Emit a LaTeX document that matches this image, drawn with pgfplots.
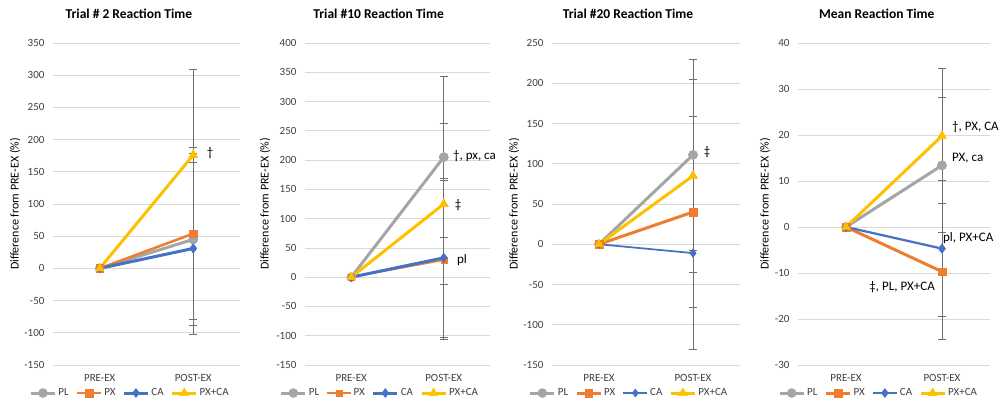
\documentclass[border=0pt]{standalone}
\usepackage{fontspec}
\setmainfont{Carlito}
\usepackage{pgfplots}
\pgfplotsset{compat=1.18}

\definecolor{plc}{HTML}{A5A5A5}
\definecolor{pxc}{HTML}{ED7D31}
\definecolor{cac}{HTML}{4472C4}
\definecolor{pcc}{HTML}{FFC000}
\definecolor{gridc}{HTML}{D9D9D9}
\definecolor{errc}{HTML}{6F6F6F}

\tikzset{note/.style={font=\fontsize{13}{15}\selectfont, inner sep=0pt}}

\pgfplotsset{
  rt/.style={
    scale only axis, height=322pt,
    xmin=-0.5, xmax=1.5, xtick={0,1}, xticklabels={PRE-EX,POST-EX},
    ymajorgrids, grid style={draw=gridc, line width=0.8pt},
    axis line style={draw=none}, major tick style={draw=none},
    clip=false,
    tick label style={font=\fontsize{11}{13}\selectfont, color=black!75},
    xticklabel style={yshift=-6pt},
    yticklabel style={xshift=-5pt},
    /pgf/number format/assume math mode=true,
    ylabel={Difference from PRE-EX (\%)},
    label style={font=\fontsize{12}{14}\selectfont},
    title style={font=\fontsize{13.5}{15}\selectfont\bfseries, anchor=center},
    legend columns=4,
    legend style={draw=none, fill=none, anchor=center,
      font=\fontsize{11}{13}\selectfont, text=black!75,
      /tikz/every even column/.append style={column sep=5pt}},
    legend image code/.code={
      \draw[mark repeat=2, mark phase=2] plot coordinates {(0pt,0pt) (12pt,0pt) (24pt,0pt)};},
  },
  pl/.style={color=plc, line width=3pt, mark=*, mark size=4.5pt, mark options={solid, line width=0.5pt}},
  px/.style={color=pxc, line width=3pt, mark=square*, mark size=3.8pt, mark options={solid, line width=0.5pt}},
  ca/.style={color=cac, line width=3pt, mark=diamond*, mark size=4.5pt, mark options={solid, line width=0.5pt}},
  pc/.style={color=pcc, line width=3pt, mark=triangle*, mark size=5pt, mark options={solid, line width=0.5pt}},
  % marks redrawn above the error bars
  mk/.style={forget plot, only marks},
  eb/.style={forget plot, only marks, mark=none,
    error bars/.cd, y dir=both, y explicit, error mark=-,
    error bar style={color=errc, line width=1pt},
    error mark options={rotate=90, color=errc, mark size=4pt, line width=1pt}},
}

\begin{document}
\begin{tikzpicture}
\useasboundingbox (0,0) rectangle (1002pt,406pt);

% Trial #2
\begin{axis}[rt, at={(53pt,41pt)}, anchor=south west, width=187pt,
  ymin=-150, ymax=350, ytick distance=50,
  title={Trial \# 2 Reaction Time},
  title style={at={(axis description cs:0.406,1.072)}},
  ylabel style={at={(axis description cs:-0.203,0.5)}, anchor=center},
  legend style={at={(axis description cs:0.412,-0.087)}}]
  \addplot[pl] coordinates {(0,0) (1,45)};
  \addplot[px, line width=2.5pt] coordinates {(0,0) (1,54)};
  \addplot[ca] coordinates {(0,0) (1,31)};
  \addplot[pc] coordinates {(0,0) (1,176)};
  \legend{PL,PX,CA,PX+CA}
  \addplot[eb] coordinates {(1,45) +- (0,133) (1,54) +- (0,133) (1,31) +- (0,133) (1,176) +- (0,133)};
  \addplot[pl, mk] coordinates {(1,45)};
  \addplot[px, mk] coordinates {(1,54)};
  \addplot[ca, mk] coordinates {(1,31)};
  \addplot[pc, mk] coordinates {(1,176)};
  \node[note] at (axis cs:1.18,179) {†};
\end{axis}

% Trial #10
\begin{axis}[rt, at={(305pt,41pt)}, anchor=south west, width=185pt,
  ymin=-150, ymax=400, ytick distance=50,
  title={Trial \#10 Reaction Time},
  title style={at={(axis description cs:0.398,1.072)}},
  ylabel style={at={(axis description cs:-0.216,0.5)}, anchor=center},
  legend style={at={(axis description cs:0.405,-0.087)}}]
  \addplot[pl] coordinates {(0,0) (1,205)};
  \addplot[px, line width=1.5pt, mark size=3pt] coordinates {(0,0) (1,29)};
  \addplot[ca] coordinates {(0,0) (1,33)};
  \addplot[pc] coordinates {(0,0) (1,125)};
  \legend{PL,PX,CA,PX+CA}
  \addplot[eb] coordinates {(1,205) +- (0,137) (1,29) +- (0,136) (1,33) +- (0,136) (1,125) +- (0,137)};
  \addplot[pl, mk] coordinates {(1,205)};
  \addplot[px, mk, mark size=3pt] coordinates {(1,29)};
  \addplot[ca, mk] coordinates {(1,33)};
  \addplot[pc, mk] coordinates {(1,125)};
  \node[note, anchor=west] at (axis cs:1.10,206) {†, px, ca};
  \node[note] at (axis cs:1.154,123) {‡};
  \node[note] at (axis cs:1.197,29) {pl};
\end{axis}

% Trial #20
\begin{axis}[rt, at={(552pt,41pt)}, anchor=south west, width=188pt,
  ymin=-150, ymax=250, ytick distance=50,
  title={Trial \#20 Reaction Time},
  title style={at={(axis description cs:0.404,1.072)}},
  ylabel style={at={(axis description cs:-0.202,0.5)}, anchor=center},
  legend style={at={(axis description cs:0.41,-0.087)}}]
  \addplot[pl] coordinates {(0,0) (1,111)};
  \addplot[px] coordinates {(0,0) (1,40)};
  \addplot[ca, line width=1.75pt, mark size=4pt] coordinates {(0,0) (1,-11)};
  \addplot[pc] coordinates {(0,0) (1,85)};
  \legend{PL,PX,CA,PX+CA}
  \addplot[eb] coordinates {(1,111) +- (0,119) (1,40) +- (0,119) (1,-11) +- (0,120) (1,85) +- (0,120)};
  \addplot[pl, mk] coordinates {(1,111)};
  \addplot[px, mk] coordinates {(1,40)};
  \addplot[ca, mk, mark size=4pt] coordinates {(1,-11)};
  \addplot[pc, mk] coordinates {(1,85)};
  \node[note] at (axis cs:1.149,114) {‡};
\end{axis}

% Mean
\begin{axis}[rt, at={(798pt,41pt)}, anchor=south west, width=192pt,
  ymin=-30, ymax=40, ytick distance=10,
  title={Mean Reaction Time},
  title style={at={(axis description cs:0.41,1.072)}},
  ylabel style={at={(axis description cs:-0.172,0.5)}, anchor=center},
  legend style={at={(axis description cs:0.42,-0.087)}}]
  \addplot[pl] coordinates {(0,0) (1,13.4)};
  \addplot[px] coordinates {(0,0) (1,-9.7)};
  \addplot[ca, line width=2.25pt] coordinates {(0,0) (1,-4.7)};
  \addplot[pc] coordinates {(0,0) (1,19.8)};
  \legend{PL,PX,CA,PX+CA}
  \addplot[eb] coordinates {(1,13.4) +- (0,14.7) (1,-9.7) +- (0,14.7) (1,-4.7) +- (0,14.7) (1,19.8) +- (0,14.6)};
  \addplot[pl, mk] coordinates {(1,13.4)};
  \addplot[px, mk] coordinates {(1,-9.7)};
  \addplot[ca, mk] coordinates {(1,-4.7)};
  \addplot[pc, mk] coordinates {(1,19.8)};
  \node[note, anchor=west] at (axis cs:1.104,21.8) {†, PX, CA};
  \node[note, anchor=west] at (axis cs:1.104,14.9) {PX, ca};
  \node[note, anchor=west] at (axis cs:1.01,-2.5) {pl, PX+CA};
  \node[note, anchor=east] at (axis cs:0.927,-13.0) {‡, PL, PX+CA};
\end{axis}
\end{tikzpicture}
\end{document}
